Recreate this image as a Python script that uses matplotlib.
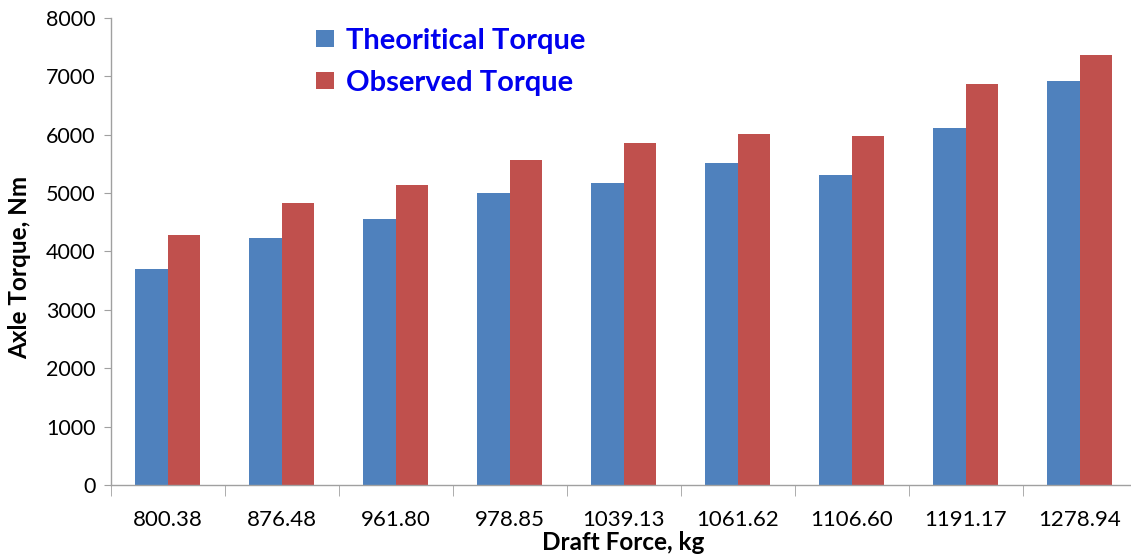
import numpy as np
import matplotlib.pyplot as plt

draft_force = ["800.38", "876.48", "961.80", "978.85", "1039.13",
               "1061.62", "1106.60", "1191.17", "1278.94"]
theoretical = [3693, 4224, 4550, 4995, 5176, 5509, 5308, 6108, 6923]
observed = [4281, 4824, 5137, 5565, 5861, 6005, 5985, 6861, 7358]

plt.rcParams['font.family'] = ['Lato', 'DejaVu Sans']

fig = plt.figure(figsize=(11.31, 5.58), dpi=100)
ax = fig.add_axes([0.0979, 0.1308, 0.907, 0.837])

x = np.arange(len(draft_force))
w = 0.285
ax.bar(x - w / 2, theoretical, w, color='#4F81BD', label='Theoritical Torque')
ax.bar(x + w / 2, observed, w, color='#C0504D', label='Observed Torque')

ax.set_xlim(-0.5, len(draft_force) - 0.5)
ax.set_ylim(0, 8000)
ax.set_yticks(range(0, 8001, 1000))
ax.set_xticks(x)
ax.set_xticklabels(draft_force)
ax.set_xticks(np.arange(-0.5, len(draft_force)), minor=True)

for s in ['top', 'right']:
    ax.spines[s].set_visible(False)
for s in ['left', 'bottom']:
    ax.spines[s].set_color('#A0A0A0')
    ax.spines[s].set_linewidth(1.0)

ax.tick_params(axis='y', length=5, color='#A0A0A0', labelsize=15.5, pad=6)
ax.tick_params(axis='x', which='major', length=0, labelsize=16, pad=18)
ax.tick_params(axis='x', which='minor', length=8, color='#A0A0A0')

ax.set_xlabel('Draft Force, kg', fontsize=17.5, fontweight='bold', labelpad=1)
ax.set_ylabel('Axle Torque, Nm', fontsize=17.5, fontweight='bold')
ax.yaxis.set_label_coords(-0.078, 0.465)

leg = ax.legend(loc='upper left', bbox_to_anchor=(0.175, 1.035), frameon=False,
                prop={'weight': 'bold', 'size': 21}, labelcolor='#0000EE',
                handlelength=0.6, handleheight=0.5, handletextpad=0.4,
                labelspacing=0.55)

fig.savefig('out.png', dpi=100)
